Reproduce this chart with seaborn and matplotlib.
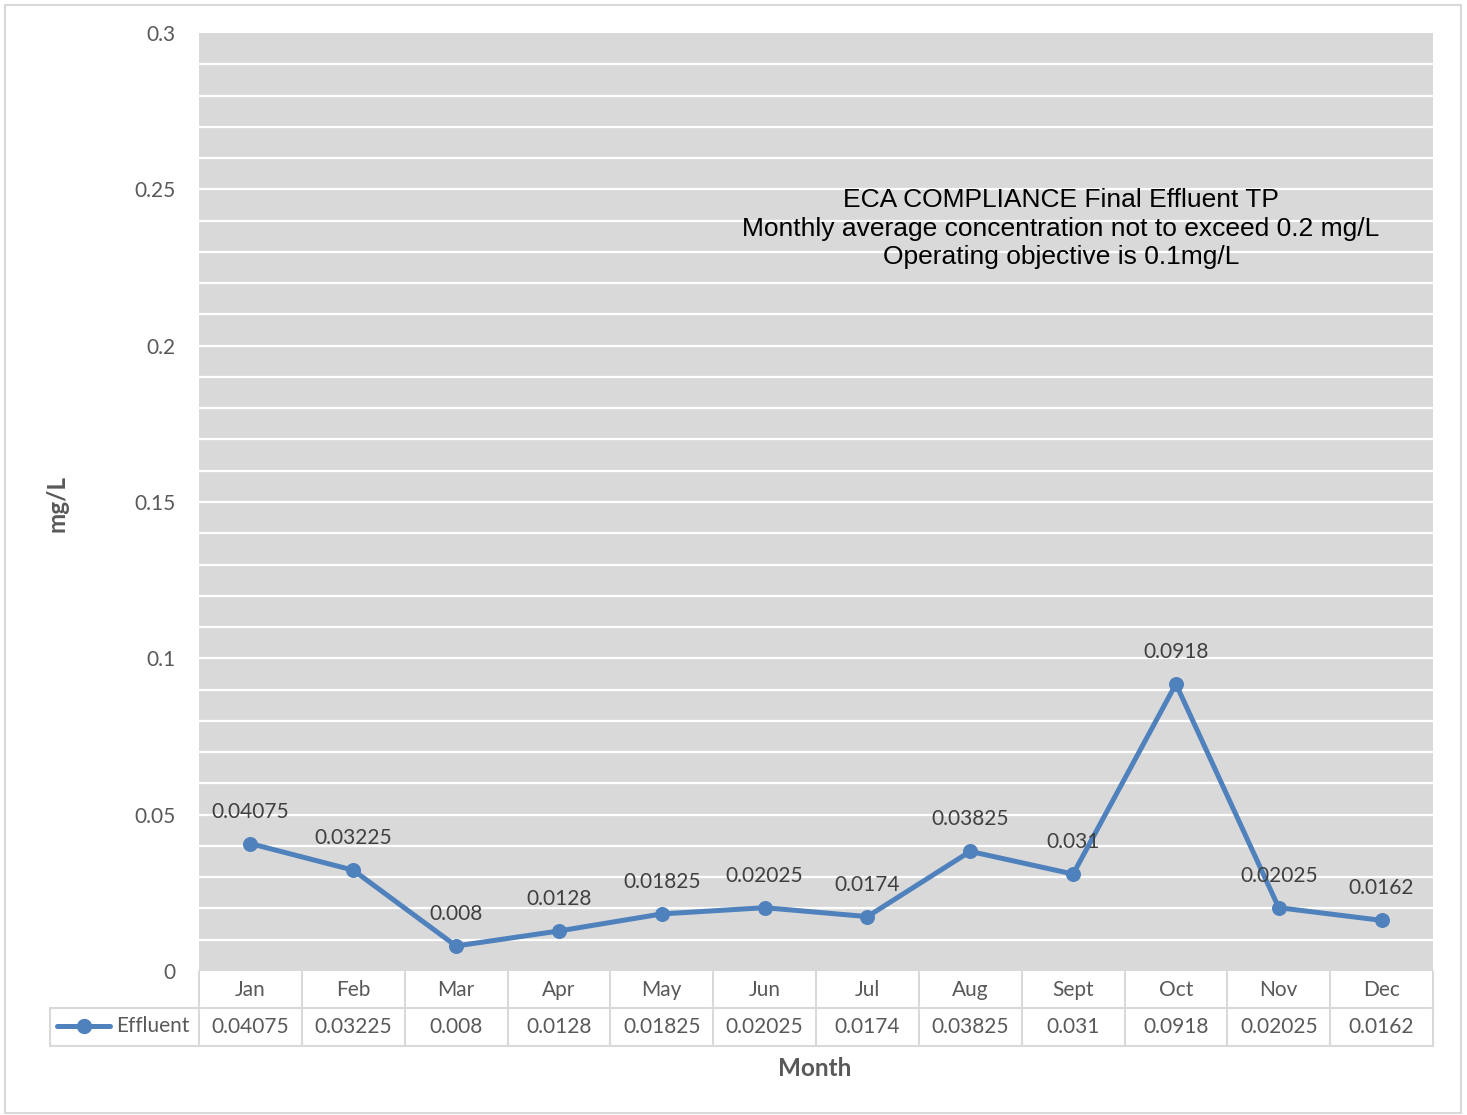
import numpy as np
import pandas as pd
import matplotlib
matplotlib.use("Agg")
import matplotlib.pyplot as plt
import seaborn as sns
from matplotlib.lines import Line2D
from matplotlib.patches import Rectangle

# data
months = ["Jan", "Feb", "Mar", "Apr", "May", "Jun", "Jul", "Aug", "Sept", "Oct", "Nov", "Dec"]
effluent = [0.04075, 0.03225, 0.008, 0.0128, 0.01825, 0.02025, 0.0174, 0.03825, 0.031, 0.0918, 0.02025, 0.0162]
value_labels = ["0.04075", "0.03225", "0.008", "0.0128", "0.01825", "0.02025", "0.0174", "0.03825", "0.031", "0.0918", "0.02025", "0.0162"]
y_ticks = [0, 0.05, 0.1, 0.15, 0.2, 0.25, 0.3]
y_tick_labels = ["0", "0.05", "0.1", "0.15", "0.2", "0.25", "0.3"]
note = ("ECA COMPLIANCE Final Effluent TP\n"
        "Monthly average concentration not to exceed 0.2 mg/L\n"
        "Operating objective is 0.1mg/L")

df = pd.DataFrame({"pos": np.arange(len(months)), "Effluent": effluent})

sns.set_style("white")
plt.rcParams["font.family"] = ["Lato", "DejaVu Sans"]

LINE = "#4F81BD"
GREY_TXT = "#595959"
BORDER = "#D9D9D9"

fig = plt.figure(figsize=(14.67, 11.15), dpi=100)
ax = fig.add_axes([199/1467, 1 - 971/1115, (1433-199)/1467, (971-33)/1115])
ax.set_facecolor("#D9D9D9")

# outer chart border
fig.patches.append(Rectangle((5/1467, 1 - 1113/1115), 1456/1467, 1108/1115,
                             transform=fig.transFigure, fill=False,
                             edgecolor=BORDER, linewidth=1.5))

# gridlines every 0.01
for g in np.arange(0.01, 0.3, 0.01):
    ax.axhline(g, color="white", linewidth=1.6, zorder=1)

sns.lineplot(data=df, x="pos", y="Effluent", ax=ax, color=LINE, linewidth=3.6,
             marker="o", markersize=10, markeredgecolor=LINE, zorder=3)

for x, y, lab in zip(df["pos"], effluent, value_labels):
    ax.annotate(lab, (x, y), xytext=(0, 23), textcoords="offset points",
                ha="center", va="center", fontsize=15, color="#404040", zorder=4)

ax.set_xlim(-0.5, len(months) - 0.5)
ax.set_ylim(0, 0.3)
ax.set_yticks(y_ticks)
ax.set_yticklabels(y_tick_labels, fontsize=15, color=GREY_TXT)
ax.set_xticks([])
ax.tick_params(axis="y", length=0, pad=17)
ax.set_xlabel("")
ax.set_ylabel("")
for s in ax.spines.values():
    s.set_visible(False)

ax.text(0.6985, 0.8345, note, transform=ax.transAxes, ha="center", va="top",
        fontsize=19, family="Liberation Sans", color="black", linespacing=1.24)

# data table below the axis
tr = ax.get_xaxis_transform()
row1 = -37/938
row2 = -75/938
for i, (m, v) in enumerate(zip(months, value_labels)):
    ax.text(i, row1/2, m, transform=tr, ha="center", va="center",
            fontsize=15, color=GREY_TXT, clip_on=False)
    ax.text(i, (row1 + row2)/2, v, transform=tr, ha="center", va="center",
            fontsize=15, color=GREY_TXT, clip_on=False)
for b in np.arange(-0.5, len(months), 1.0):
    ax.plot([b, b], [0, row2], transform=tr, color=BORDER, linewidth=1.5, clip_on=False)
ax.plot([-0.5, len(months) - 0.5], [row1, row1], transform=tr, color=BORDER, linewidth=1.5, clip_on=False)
ax.plot([-0.5, len(months) - 0.5], [row2, row2], transform=tr, color=BORDER, linewidth=1.5, clip_on=False)

# legend cell of the table
lx0, lx1 = 50/1467, 199/1467
ly0, ly1 = 1 - 1008/1115, 1 - 1046/1115
fig.lines.append(Line2D([lx0, lx1], [ly0, ly0], transform=fig.transFigure, color=BORDER, linewidth=1.5))
fig.lines.append(Line2D([lx0, lx1], [ly1, ly1], transform=fig.transFigure, color=BORDER, linewidth=1.5))
fig.lines.append(Line2D([lx0, lx0], [ly0, ly1], transform=fig.transFigure, color=BORDER, linewidth=1.5))
ly = 1 - 1026/1115
fig.lines.append(Line2D([57/1467, 110/1467], [ly, ly], transform=fig.transFigure,
                        color=LINE, linewidth=3.6, solid_capstyle="round"))
fig.lines.append(Line2D([84/1467], [ly], transform=fig.transFigure, color=LINE,
                        marker="o", markersize=10, linestyle="none"))
fig.text(116/1467, ly, "Effluent", ha="left", va="center", fontsize=15, color=GREY_TXT)

# axis titles
fig.text(57/1467, 1 - 503/1115, "mg/L", rotation=90, ha="center", va="center",
         fontsize=17.5, fontweight="bold", color=GREY_TXT)
fig.text(815/1467, 1 - 1068/1115, "Month", ha="center", va="center",
         fontsize=17.5, fontweight="bold", color=GREY_TXT)

fig.savefig("out.png", dpi=100)
